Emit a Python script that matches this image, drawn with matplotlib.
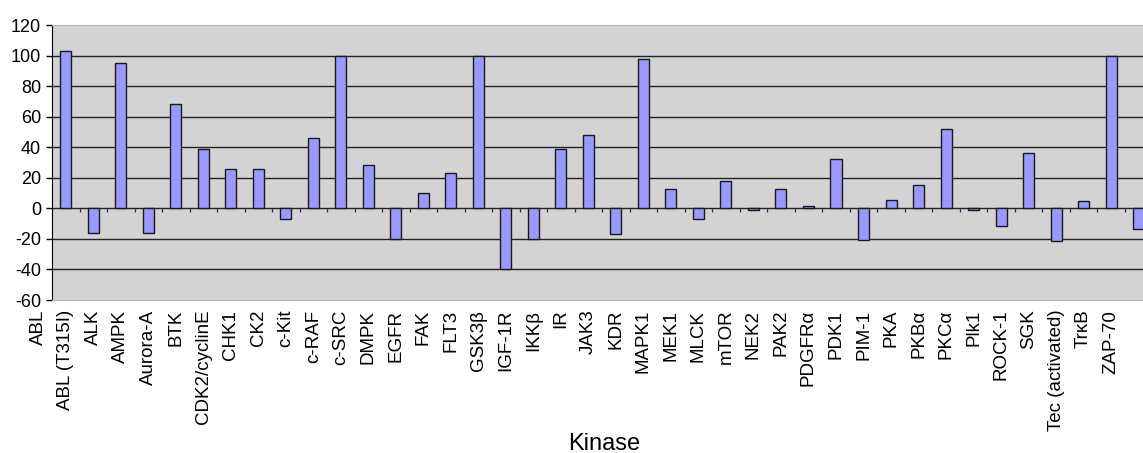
import numpy as np
import matplotlib.pyplot as plt
import matplotlib.transforms as mtransforms

plt.rcParams['font.family'] = ['Liberation Sans', 'DejaVu Sans']

# category labels (ABL sits just left of the plot area, last bar has no label)
kinases = ['ABL', 'ABL (T315I)', 'ALK', 'AMPK', 'Aurora-A', 'BTK', 'CDK2/cyclinE',
           'CHK1', 'CK2', 'c-Kit', 'c-RAF', 'c-SRC', 'DMPK', 'EGFR', 'FAK', 'FLT3',
           'GSK3\u03b2', 'IGF-1R', 'IKK\u03b2', 'IR', 'JAK3', 'KDR', 'MAPK1', 'MEK1',
           'MLCK', 'mTOR', 'NEK2', 'PAK2', 'PDGFR\u03b1', 'PDK1', 'PIM-1', 'PKA',
           'PKB\u03b1', 'PKC\u03b1', 'Plk1', 'ROCK-1', 'SGK', 'Tec (activated)',
           'Tr\u03baB', 'ZAP-70']

# bar values, starting at ABL (T315I); the final value belongs to the cut-off bar
values = [103, -16, 95, -16, 68, 39, 26, 26, -7, 46, 100, 28.5, -20, 10, 23, 99.5,
          -40, -20, 39, 48, -17, 98, 12.5, -7, 18, -1, 12.5, 1.5, 32, -20.5, 5.5,
          15.5, 52, -1.3, -11.3, 36, -21.3, 5, 99.5, -13.5]

yticks = [-60, -40, -20, 0, 20, 40, 60, 80, 100, 120]

fig = plt.figure(figsize=(11.43, 4.53), dpi=100)
ax = fig.add_axes([52 / 1143, 1 - 300 / 453, 1 - 52 / 1143, 275 / 453])
ax.set_facecolor('#d3d3d3')

pos = np.arange(1, len(values) + 1)
ax.bar(pos, values, width=0.4, color='#9999ff', edgecolor='#1a1a1a',
       linewidth=1.0, zorder=3)

ax.set_yticks(yticks)
ax.set_yticklabels([str(v) for v in yticks], fontsize=13)
ax.tick_params(axis='y', length=4, width=1, pad=4)

for v in yticks[1:-1]:
    ax.axhline(v, color='#222222', linewidth=1.0, zorder=1)

# little category-boundary ticks under the zero line
bounds = np.arange(0.5, len(kinases) + 1.5)
ax.vlines(bounds, -2.6, 0, color='#333333', linewidth=0.9, zorder=2)

ax.set_xticks(np.arange(len(kinases)))
ax.set_xticklabels(kinases, rotation=90, fontsize=13.5)
ax.tick_params(axis='x', length=0, pad=7)

ax.set_ylim(-60, 120)
ax.set_xlim(0.5, 40.16)

# ABL label lies outside the axes limits, so place it by hand
trans = mtransforms.offset_copy(
    mtransforms.blended_transform_factory(ax.transData, ax.transAxes),
    fig=fig, x=0, y=-10, units='dots')
ax.text(0, 0, kinases[0], rotation=90, ha='center', va='top', fontsize=13.5,
        transform=trans, clip_on=False)

for s in ['top', 'bottom']:
    ax.spines[s].set_color('#b4b4b4')
ax.spines['right'].set_visible(False)
ax.spines['left'].set_color('black')

fig.text(604 / 1143, 1 - 450 / 453, 'Kinase', ha='center', va='baseline', fontsize=17)

fig.savefig('out.png', dpi=100)
